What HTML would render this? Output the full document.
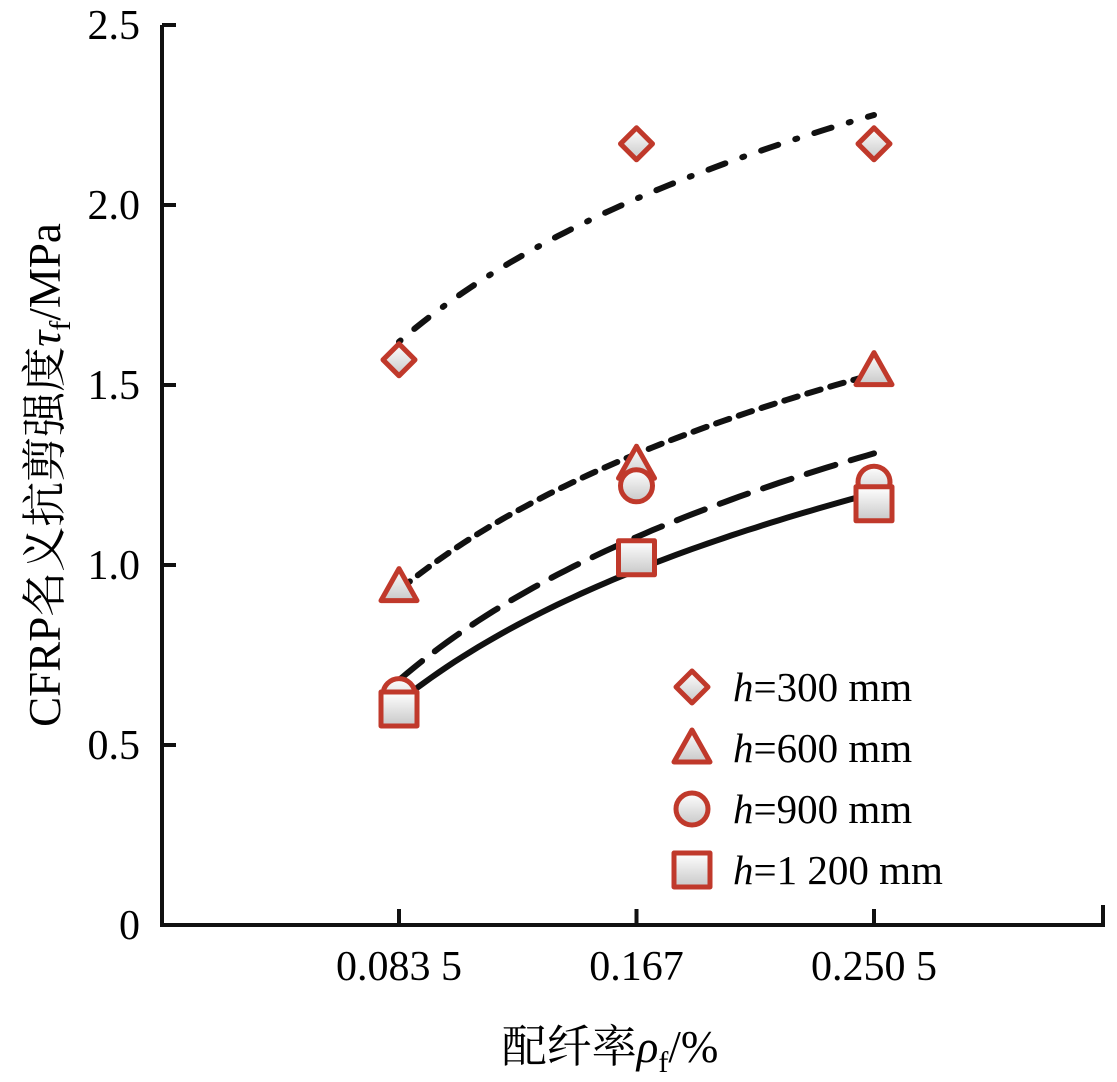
<!DOCTYPE html>
<html><head><meta charset="utf-8"><style>
body{margin:0;background:#fff;}
svg{display:block;font-family:"Liberation Serif","Noto Serif CJK SC",serif;}
</style></head><body>
<svg id="chart" width="1117" height="1082" viewBox="0 0 1117 1082">
<defs>
<linearGradient id="mfill" x1="0" y1="0" x2="0" y2="1">
<stop offset="0" stop-color="#ffffff"/><stop offset="1" stop-color="#c8c8c8"/>
</linearGradient>
</defs>
<g id="axes"></g>
<g id="fits"></g>
<g id="marks"></g>
<g id="legend"></g>
<text transform="translate(60,475) rotate(-90)" text-anchor="middle" font-size="45">CFRP名义抗剪强度<tspan font-style="italic">τ</tspan><tspan font-size="30" dy="10">f</tspan><tspan dy="-10">/MPa</tspan></text>
<text x="610" y="1062" text-anchor="middle" font-size="45">配纤率<tspan font-style="italic">ρ</tspan><tspan font-size="30" dy="10">f</tspan><tspan dy="-10">/%</tspan></text>
</svg>
<script>
const categories = ["0.083 5","0.167","0.250 5"];
const xValues = [0.0835,0.167,0.2505];
const yTicks = [0,0.5,1.0,1.5,2.0,2.5];
const yTickLabels = ["0","0.5","1.0","1.5","2.0","2.5"];
const seriesNames = ["h300","h600","h900","h1200"];
const legendLabels = ["300 mm","600 mm","900 mm","1 200 mm"];
const markerTypes = ["diamond","triangle","circle","square"];
const h300 = [1.57,2.17,2.17];
const h600 = [0.94,1.28,1.54];
const h900 = [0.64,1.22,1.23];
const h1200 = [0.60,1.02,1.17];
const fit300 = [1.62,2.25];
const fit600 = [0.93,1.53];
const fit900 = [0.68,1.31];
const fit1200 = [0.62,1.20];
const dashes = ["2 18 18 18","14 10","30 16",""];

const NS="http://www.w3.org/2000/svg";
const X0=162,XEND=1103,Y0=925,YTOP=25;
function xScale(i){return 399+i*237.5;}
function xCont(v){return 399+(v-xValues[0])/(xValues[2]-xValues[0])*475;}
function yScale(v){return Y0-v*360;}
function mk(tag,attrs,parent){const e=document.createElementNS(NS,tag);for(const k in attrs)e.setAttribute(k,attrs[k]);parent.appendChild(e);return e;}
const axes=document.getElementById('axes');
let e=mk('path',{d:`M${X0},${YTOP} V${Y0} H${XEND} V${Y0-20}`,fill:'none',stroke:'#111','stroke-width':4},axes);


yTicks.forEach((t,i)=>{
 const y=yScale(t);
 const l=mk('line',{x1:X0,x2:X0+14,y1:y,y2:y,stroke:'#111','stroke-width':4},axes);
 
 
 const tx=mk('text',{x:X0-22,y:y+14,'text-anchor':'end','font-size':42},axes);
 tx.textContent=yTickLabels[i];
 
 
});
categories.forEach((c,i)=>{
 const x=xScale(i);
 const l=mk('line',{x1:x,x2:x,y1:Y0,y2:Y0-16,stroke:'#111','stroke-width':4},axes);
 
 
 const tx=mk('text',{x:x,y:980,'text-anchor':'middle','font-size':42},axes);
 tx.textContent=c;
 
 
});
const fits=[fit300,fit600,fit900,fit1200];
const fitG=document.getElementById('fits');
fits.forEach((f,s)=>{
 const a=Math.log(xValues[0]),b=Math.log(xValues[2]);
 const k=(f[1]-f[0])/(b-a);
 let d='';
 for(let j=0;j<=60;j++){
  const v=xValues[0]+(xValues[2]-xValues[0])*j/60;
  const yv=f[0]+k*(Math.log(v)-a);
  d+=(j?'L':'M')+xCont(v).toFixed(1)+','+yScale(yv).toFixed(1);
 }
 const p=mk('path',{d:d,fill:'none',stroke:'#111','stroke-width':6,'stroke-linecap':'round'},fitG);
 if(dashes[s])p.setAttribute('stroke-dasharray',dashes[s]);
 
 
});
function marker(type,x,y,parent){
 const st={fill:'url(#mfill)',stroke:'#c0392b','stroke-width':5,'stroke-linejoin':'round'};
 let el;
 if(type==='diamond')el=mk('path',Object.assign({d:`M${x},${y-16}L${x+16},${y}L${x},${y+16}L${x-16},${y}Z`},st),parent);
 else if(type==='triangle')el=mk('path',Object.assign({d:`M${x},${y-18}L${x+18},${y+14}L${x-18},${y+14}Z`},st),parent);
 else if(type==='circle')el=mk('circle',Object.assign({cx:x,cy:y,r:16},st),parent);
 else el=mk('rect',Object.assign({x:x-18,y:y-17,width:36,height:34},st),parent);
 return el;
}
const data=[h300,h600,h900,h1200];
const mg=document.getElementById('marks');
data.forEach((arr,s)=>{
 arr.forEach((v,i)=>{
  const m=marker(markerTypes[s],xScale(i),yScale(v),mg);
  
  
 });
});
const lg=document.getElementById('legend');
legendLabels.forEach((lab,s)=>{
 const y=687+s*61;
 const m=marker(markerTypes[s],692,y,lg);
 
 
 const t=mk('text',{x:733,y:y+14,'font-size':41},lg);
 t.innerHTML='<tspan font-style="italic">h</tspan>='+lab;
 
 
});
</script>
</body></html>
